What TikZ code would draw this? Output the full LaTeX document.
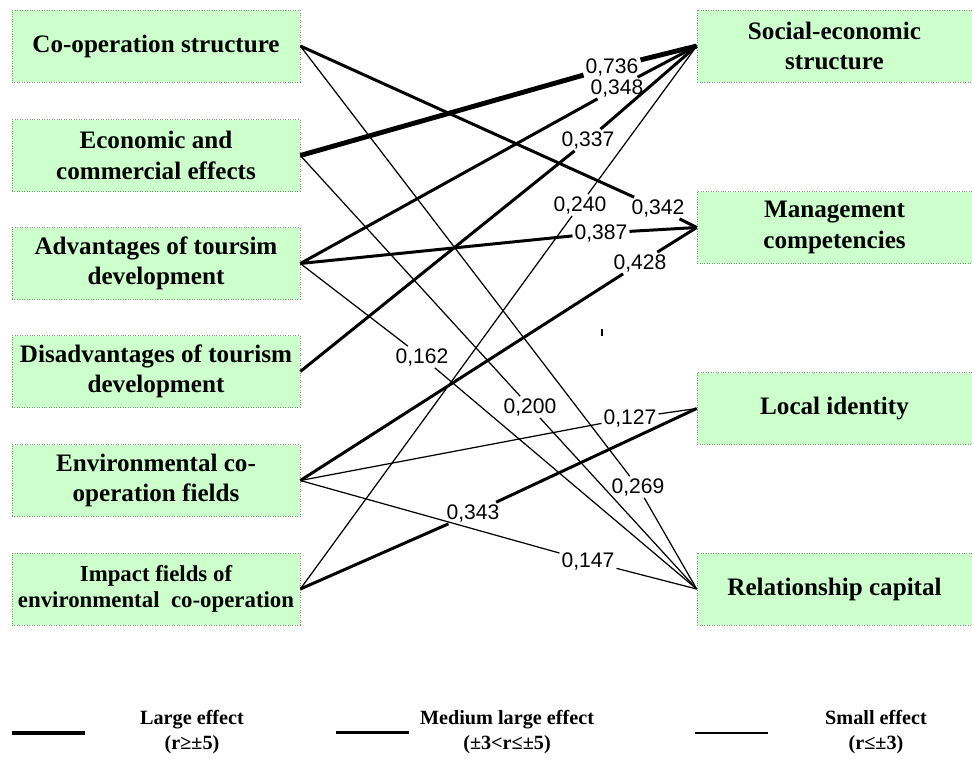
\documentclass[tikz,border=0pt]{standalone}
\usepackage{fontspec}
\setmainfont{Liberation Serif}
\newfontfamily\numfont{Liberation Sans}
\definecolor{boxgreen}{RGB}{204,255,204}
\definecolor{boxline}{RGB}{125,145,125}
\begin{document}
\begin{tikzpicture}
[
x=0.02cm, y=-0.02cm,
leftbox/.style={rectangle, draw=boxline, densely dotted, fill=boxgreen, minimum width=5.76cm, minimum height=1.44cm, align=center, font=\fontsize{14.3}{17.4}\selectfont\bfseries},
rightbox/.style={leftbox, minimum width=5.5cm},
coefficient/.style={font=\numfont\fontsize{12}{14}\selectfont, inner sep=1pt, fill=white},
legendtext/.style={align=center, font=\fontsize{11.5}{14}\selectfont\bfseries},
bigeffect/.style={line width=2.8pt},
mideffect/.style={line width=1.7pt},
smalleffect/.style={line width=0.7pt}
]
\useasboundingbox (0,0) rectangle (972,758);
%Factors
\node[leftbox]		(coop) at(156,46) {Co-operation structure};
\node[leftbox]		(econ) at(156,155.5) {Economic and\\commercial effects};
\node[leftbox]		(adv) at(156,263.5) {Advantages of toursim\\development};
\node[leftbox]		(disadv) at(156,371.5) {Disadvantages of tourism\\development};
\node[leftbox]		(env) at(156,480.5) {Environmental co-\\operation fields};
\node[leftbox, font=\fontsize{13}{15}\selectfont\bfseries]	(impact) at(156,589) {Impact fields of\\environmental\ \ co-operation};
%Outcomes
\node[rightbox]		(se) at(834.5,46) {Social-economic\\structure};
\node[rightbox]		(mgmt) at(834.5,227.5) {Management\\competencies};
\node[rightbox]		(local) at(834.5,408.5) {Local identity};
\node[rightbox]		(rel) at(834.5,589) {Relationship capital};
%Coefficients
\node[coefficient]	(c736) at(612,67) {0,736};
\node[coefficient]	(c348) at(617,88) {0,348};
\node[coefficient]	(c337) at(588,140) {0,337};
\node[coefficient]	(c240) at(580,205) {0,240};
\node[coefficient]	(c342) at(658,208) {0,342};
\node[coefficient]	(c387) at(601,233) {0,387};
\node[coefficient]	(c428) at(640,263) {0,428};
\node[coefficient]	(c162) at(422,357) {0,162};
\node[coefficient]	(c200) at(530,407) {0,200};
\node[coefficient]	(c127) at(630,418) {0,127};
\node[coefficient]	(c269) at(638,487) {0,269};
\node[coefficient]	(c343) at(473,513) {0,343};
\node[coefficient]	(c147) at(588,561) {0,147};
%Effects
\draw[bigeffect] (econ.east) -- (c736) -- (se.west);
\draw[mideffect] (adv.east) -- (c348) -- (se.west);
\draw[mideffect] (disadv.east) -- (c337) -- (se.west);
\draw[smalleffect] (impact.east) -- (c240) -- (se.west);
\draw[mideffect] (coop.east) -- (c342) -- (mgmt.west);
\draw[mideffect] (adv.east) -- (c387) -- (mgmt.west);
\draw[mideffect] (env.east) -- (c428) -- (mgmt.west);
\draw[smalleffect] (adv.east) -- (c162) -- (rel.west);
\draw[smalleffect] (econ.east) -- (c200) -- (rel.west);
\draw[smalleffect] (env.east) -- (c127) -- (local.west);
\draw[smalleffect] (coop.east) -- (c269) -- (rel.west);
\draw[mideffect] (impact.east) -- (c343) -- (local.west);
\draw[smalleffect] (env.east) -- (c147) -- (rel.west);
\draw[smalleffect] (602,329) -- (602,336);
%Legend
\coordinate (l1a) at(12,733);
\coordinate (l1b) at(85,733);
\coordinate (l2a) at(336,732.5);
\coordinate (l2b) at(409,732.5);
\coordinate (l3a) at(695,733);
\coordinate (l3b) at(768,733);
\draw[bigeffect] (l1a) -- (l1b);
\draw[mideffect] (l2a) -- (l2b);
\draw[smalleffect] (l3a) -- (l3b);
\node[legendtext]	(t1) at(192,732) {Large effect\\(r≥±5)};
\node[legendtext]	(t2) at(507,732) {Medium large effect\\(±3<r≤±5)};
\node[legendtext]	(t3) at(876,732) {Small effect\\(r≤±3)};
\end{tikzpicture}
\end{document}
